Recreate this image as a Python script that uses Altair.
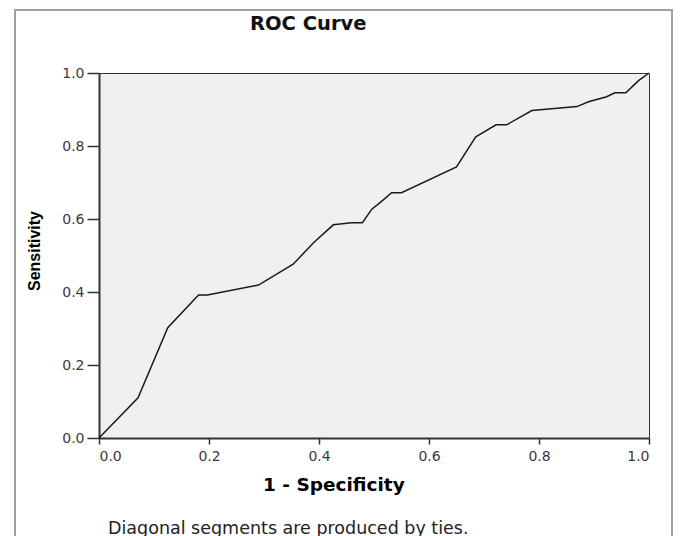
import altair as alt
import pandas as pd

fpr = [0.0, 0.071, 0.125, 0.181, 0.197, 0.290, 0.353, 0.390, 0.426, 0.459, 0.479,
       0.496, 0.511, 0.532, 0.550, 0.650, 0.685, 0.722, 0.741, 0.787, 0.869, 0.890,
       0.923, 0.938, 0.958, 0.981, 1.0]
tpr = [0.0, 0.110, 0.302, 0.392, 0.392, 0.419, 0.476, 0.535, 0.584, 0.590, 0.590,
       0.627, 0.645, 0.672, 0.672, 0.743, 0.825, 0.858, 0.858, 0.897, 0.908, 0.921,
       0.935, 0.946, 0.946, 0.979, 1.0]
ticks = [0.0, 0.2, 0.4, 0.6, 0.8, 1.0]

title_text = "ROC Curve"
x_label = "1 - Specificity"
y_label = "Sensitivity"
footer = "Diagonal segments are produced by ties."

df = pd.DataFrame({"fpr": fpr, "tpr": tpr, "order": list(range(len(fpr)))})

W, H = 550, 365
PL, PT = 91, 65

xs = alt.Scale(domain=[0, 1], nice=False, zero=False)
ys = alt.Scale(domain=[0, 1], nice=False, zero=False)

common = dict(values=ticks, format=".1f", title=None, grid=False,
              domainColor="#333333", domainWidth=2, tickColor="#333333",
              tickWidth=1.5, labelFont="DejaVu Sans", labelFontSize=14,
              labelColor="#3a3a3a")
x_axis = alt.Axis(tickSize=6, labelPadding=5, **common)
y_axis = alt.Axis(tickSize=12, labelPadding=3, **common)

frame = alt.Chart(df).mark_rect(fill=None, stroke="#a0a0a0", strokeWidth=1.5).encode(
    x=alt.value(-84), x2=alt.value(573), y=alt.value(-63), y2=alt.value(480)
)

line = alt.Chart(df).mark_line(color="#1a1a1a", strokeWidth=1.5).encode(
    x=alt.X("fpr:Q", scale=xs, axis=x_axis),
    y=alt.Y("tpr:Q", scale=ys, axis=y_axis),
    order="order:Q",
)

def label(txt, x, y, size, weight="normal", angle=0, font="DejaVu Sans",
          color="#000000", align="left", baseline="alphabetic"):
    return alt.Chart(pd.DataFrame({"t": [txt]})).mark_text(
        font=font, fontSize=size, fontWeight=weight, angle=angle,
        align=align, baseline=baseline, color=color
    ).encode(text="t:N", x=alt.value(x), y=alt.value(y))

t_title = label(title_text, 250 - 99, 29.5 - 73, 19.5, "bold", color="#111111")
t_x = label(x_label, 263 - 99, 491 - 73, 18.5, "bold")
t_y = label(y_label, 35 - 99, 251 - 73, 16, "bold", angle=270,
            font="Liberation Sans", align="center", baseline="middle")
t_foot = label(footer, 108 - 99, 533.5 - 73, 17.5, "normal", color="#222222")

chart = alt.layer(frame, line, t_title, t_x, t_y, t_foot).properties(
    width=W, height=H,
    autosize=alt.AutoSizeParams(type="none"),
    padding={"left": PL, "top": PT, "right": 24, "bottom": 98},
    background="white",
).configure_view(
    fill="#f0f0f0", stroke="#333333", strokeWidth=1
)

chart.save("out.html", embed_options={"renderer": "svg", "actions": False})
